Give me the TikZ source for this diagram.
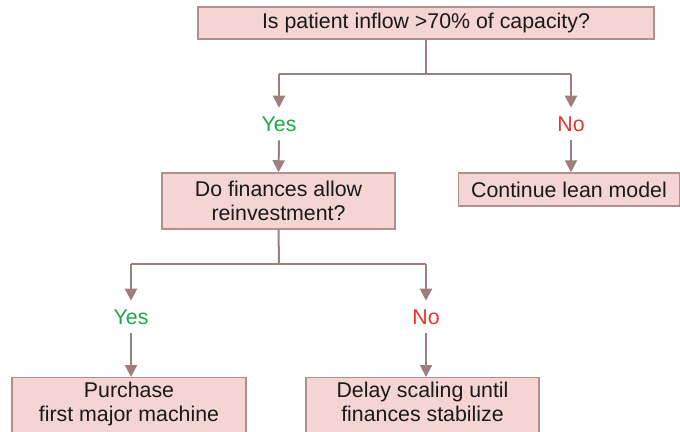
\documentclass[tikz,border=0pt]{standalone}
\usepackage{fontspec}
\setmainfont{Liberation Sans}
\usetikzlibrary{arrows.meta}
\definecolor{boxfill}{HTML}{F4D5D3}
\definecolor{boxline}{HTML}{B38E8C}
\definecolor{conn}{HTML}{9E7F7D}
\definecolor{yesgreen}{HTML}{1EA84A}
\definecolor{nored}{HTML}{E8342C}
\tikzset{
  box/.style={draw=boxline, fill=boxfill, line width=1.1pt, inner sep=0pt, align=center, font=\fontsize{16pt}{17.5pt}\selectfont, text=black!90},
  cutbox/.style={box, inner ysep=3.5pt, text depth=30pt, anchor=north},
  conline/.style={draw=conn, line width=1.5pt},
  conarrow/.style={conline, -{Triangle[width=9pt,length=9pt]}},
  lbl/.style={inner sep=0pt, minimum height=24pt, font=\fontsize{16pt}{17.5pt}\selectfont}
}
\begin{document}
\begin{tikzpicture}[x=0.75pt,y=-0.75pt]
\useasboundingbox (0,0) rectangle (680,431);
\clip (0,0) rectangle (680,431);
\node[box, minimum width=342pt, minimum height=24pt] (q1) at (426,23) {Is patient inflow >70\% of capacity?};
\node[box, minimum width=174.75pt, minimum height=42pt] (q2) at (278.5,201) {Do finances allow\\reinvestment?};
\node[box, minimum width=165.75pt, minimum height=24.75pt] (q3) at (569,189.5) {Continue lean model};
\node[cutbox, minimum width=175.5pt] (a1) at (129,377) {Purchase\\first major machine};
\node[cutbox, minimum width=174.75pt] (a2) at (422.5,377) {Delay scaling until\\finances stabilize};
\node[lbl, text=yesgreen] (y1) at (279,124) {Yes};
\node[lbl, text=nored] (n1) at (571,124) {No};
\node[lbl, text=yesgreen] (y2) at (131,317) {Yes};
\node[lbl, text=nored] (n2) at (426,317) {No};
\coordinate (s1) at (426,74);
\coordinate (s1l) at (279,74);
\coordinate (s1r) at (571,74);
\coordinate (s2) at (279,264);
\coordinate (s2l) at (131,264);
\coordinate (s2r) at (426,264);
\draw[conline] (q1.south) -- (s1);
\draw[conline] (s1l) -- (s1r);
\draw[conarrow] (s1l) -- (y1.north);
\draw[conarrow] (s1r) -- (n1.north);
\draw[conarrow] (y1.south) -- (q2.north);
\draw[conarrow] (n1.south) -- (q3.north -| n1.south);
\draw[conline] (q2.south) -- (s2);
\draw[conline] (s2l) -- (s2r);
\draw[conarrow] (s2l) -- (y2.north);
\draw[conarrow] (s2r) -- (n2.north);
\draw[conarrow] (y2.south) -- (a1.north -| y2.south);
\draw[conarrow] (n2.south) -- (a2.north -| n2.south);
\end{tikzpicture}
\end{document}
